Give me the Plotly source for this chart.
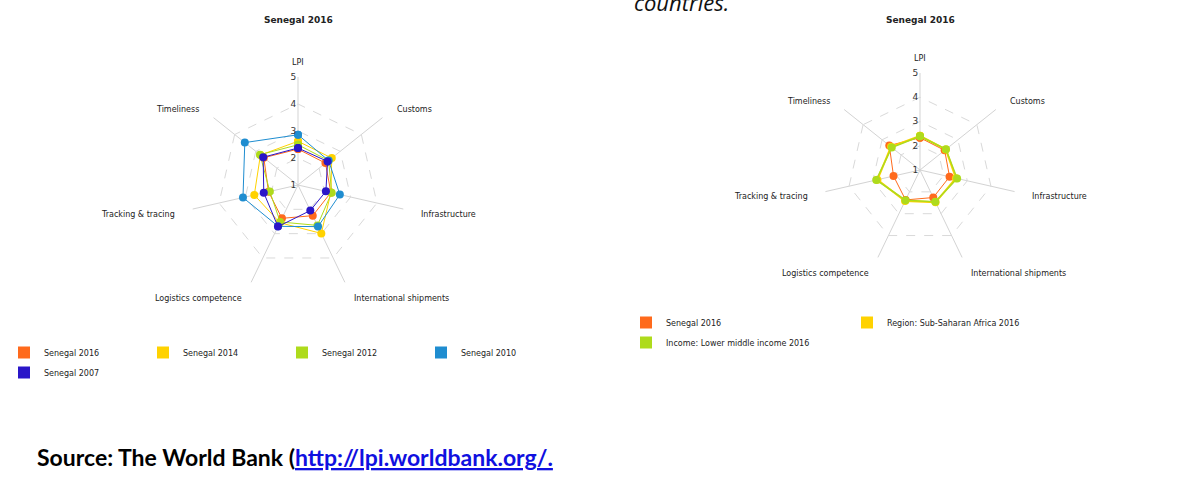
import math
import plotly.graph_objects as go

W, H = 1195, 498

categories = ["LPI", "Customs", "Infrastructure", "International shipments",
              "Logistics competence", "Tracking & tracing", "Timeliness"]
radial_ticks = [1, 2, 3, 4, 5]

# Left chart: Senegal over the years
senegal_2016 = [2.33, 2.30, 2.25, 2.26, 2.37, 2.12, 2.62]
senegal_2014 = [2.62, 2.60, 2.25, 2.99, 2.55, 2.66, 2.78]
senegal_2012 = [2.49, 2.45, 2.28, 2.66, 2.52, 2.07, 2.80]
senegal_2010 = [2.86, 2.45, 2.59, 2.71, 2.70, 3.09, 3.52]
senegal_2007 = [2.37, 2.40, 2.06, 2.05, 2.71, 2.30, 2.65]

# Right chart: comparison 2016
region_ssa_2016 = [2.41, 2.36, 2.52, 2.48, 2.42, 2.80, 2.53]
income_lmi_2016 = [2.39, 2.37, 2.57, 2.45, 2.38, 2.85, 2.49]

# (name, values, colour, line width, legend id)
left_series = [
    ("Senegal 2016", senegal_2016, "#FF6A1C", 1, "legend"),
    ("Senegal 2014", senegal_2014, "#FFD200", 1, "legend"),
    ("Senegal 2012", senegal_2012, "#AEDB1C", 1, "legend"),
    ("Senegal 2010", senegal_2010, "#1F8DD0", 1, "legend"),
    ("Senegal 2007", senegal_2007, "#2A16C8", 1, "legend3"),
]
right_series = [
    ("Senegal 2016", senegal_2016, "#FF6A1C", 1, "legend2"),
    ("Region: Sub-Saharan Africa 2016", region_ssa_2016, "#FFD200", 2, "legend2"),
    ("Income: Lower middle income 2016", income_lmi_2016, "#AEDB1C", 1.5, "legend4"),
]

FONT = "DejaVu Sans"

charts = [
    dict(sub="polar", cx=298, cy=185, R=108, series=left_series),
    dict(sub="polar2", cx=920, cy=170, R=97, series=right_series),
]

fig = go.Figure()

for ch in charts:
    for name, vals, color, lw, lg in ch["series"]:
        fig.add_trace(go.Scatterpolar(
            r=vals + vals[:1], theta=categories + categories[:1],
            mode="lines+markers", name=name, subplot=ch["sub"],
            line=dict(color=color, width=lw),
            marker=dict(color=color, size=8),
            showlegend=False,
        ))
for ch in charts:
    for name, vals, color, lw, lg in ch["series"]:
        fig.add_trace(go.Scatterpolar(
            r=[None], theta=[None], mode="markers", name=name, subplot=ch["sub"],
            marker=dict(color=color, size=12, symbol="square"),
            legend=lg, showlegend=True,
        ))

def polar_layout(cx, cy, R):
    return dict(
        domain=dict(x=[(cx - R) / W, (cx + R) / W],
                    y=[1 - (cy + R) / H, 1 - (cy - R) / H]),
        gridshape="linear",
        bgcolor="white",
        radialaxis=dict(range=[1, 5], tickvals=radial_ticks, angle=90,
                        side="counterclockwise", tickangle=90,
                        showline=False, ticks="", gridcolor="#d9d9d9",
                        griddash="dash", gridwidth=1,
                        tickfont=dict(family=FONT, size=9, color="#333")),
        angularaxis=dict(rotation=90, direction="clockwise",
                         categoryarray=categories, type="category",
                         showticklabels=False, ticks="", showline=False,
                         gridcolor="#d3d3d3", gridwidth=1),
    )

fig.update_layout(
    polar=polar_layout(298, 185, 108),
    polar2=polar_layout(920, 170, 97),
)

annotations = []
n = len(categories)
for ch in charts:
    cx, cy, R = ch["cx"], ch["cy"], ch["R"]
    for i, cat in enumerate(categories):
        a = math.radians(90 - i * 360 / n)
        rr = R + 16
        px = cx + rr * math.cos(a)
        py = cy - rr * math.sin(a) + 1.5
        c = math.cos(a)
        xa = "left" if c > 0.1 else ("right" if c < -0.1 else "center")
        annotations.append(dict(
            x=px / W, y=1 - py / H, xref="paper", yref="paper",
            text=cat, showarrow=False, xanchor=xa, yanchor="middle",
            font=dict(family=FONT, size=8, color="#222"),
        ))
    annotations.append(dict(
        x=cx / W, y=1 - 20 / H, xref="paper", yref="paper",
        text="<b>Senegal 2016</b>", showarrow=False, xanchor="center", yanchor="middle",
        font=dict(family=FONT, size=9, color="#222"),
    ))

annotations.append(dict(
    x=681 / W, y=1 - 2.5 / H, xref="paper", yref="paper",
    text="<i>countries.</i>", showarrow=False, xanchor="center", yanchor="middle",
    font=dict(family="Open Sans", size=22, color="#111"),
))
annotations.append(dict(
    x=35 / W, y=1 - 457 / H, xref="paper", yref="paper",
    text="<b>Source: The World Bank (</b><b><span style='color:#1010e0'><u>http://lpi.worldbank.org/.</u></span></b>",
    showarrow=False, xanchor="left", yanchor="middle",
    font=dict(family="Lato", size=23, color="#000"),
))

def legend_box(x_px, y_px, entry):
    return dict(x=x_px / W, y=1 - y_px / H, xanchor="left", yanchor="top",
                orientation="h", entrywidth=entry, entrywidthmode="pixels",
                font=dict(family=FONT, size=8, color="#222"), itemsizing="constant",
                bgcolor="rgba(0,0,0,0)")

fig.update_layout(
    width=W, height=H,
    margin=dict(l=0, r=0, t=0, b=0),
    paper_bgcolor="white",
    plot_bgcolor="white",
    annotations=annotations,
    legend=legend_box(4, 338, 94),
    legend3=legend_box(4, 358, 94),
    legend2=legend_box(626, 308, 176),
    legend4=legend_box(626, 328, 176),
)

fig.write_html("out.html", config={"displayModeBar": False},
               post_script="document.body.style.margin='0px';")
